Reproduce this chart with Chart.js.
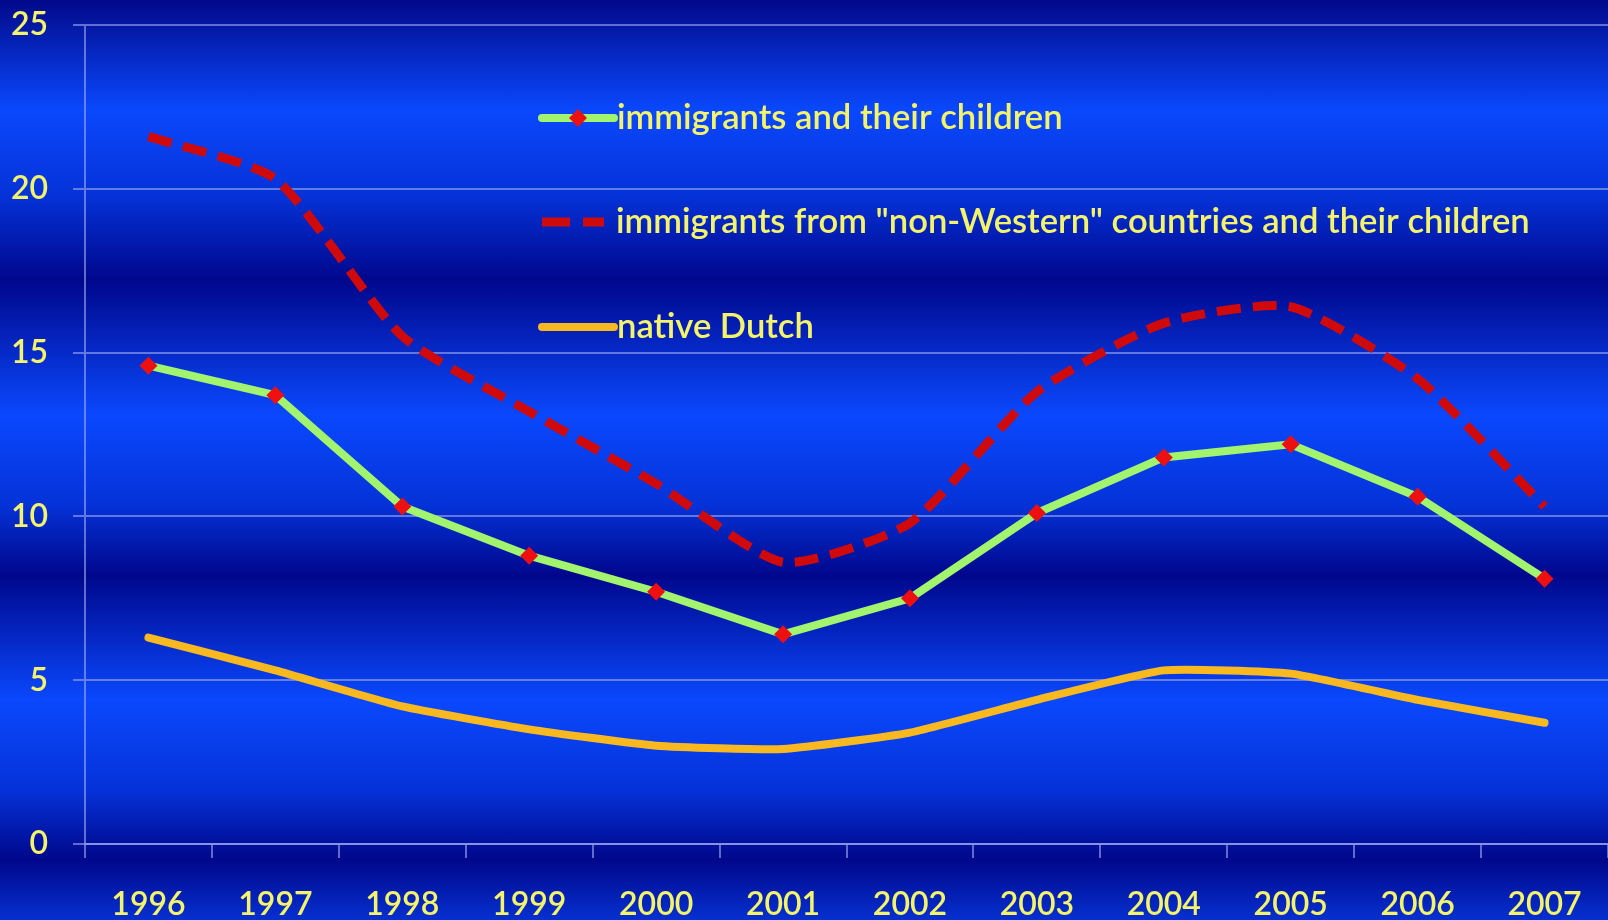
<!DOCTYPE html>
<html>
<head>
<meta charset="utf-8">
<script src="https://cdn.jsdelivr.net/npm/chart.js@4.4.1/dist/chart.umd.min.js"></script>
<style>
  html, body { margin: 0; padding: 0; width: 1608px; height: 920px; overflow: hidden; }
  body {
    /* banded blue background, like the old slide template */
    background: linear-gradient(to bottom,
      #02098a 0px, #0a48fd 110px, #0532d8 195px, #00078c 280px,
      #0a48fd 415px, #0532d8 505px, #00078c 575px,
      #0a48fd 700px, #0532d8 790px, #00078c 860px, #0630d0 920px);
  }
</style>
</head>
<body>
<canvas id="grafico" width="1608" height="920"></canvas>
<script>
// years on the x axis
const anni = ['1996', '1997', '1998', '1999', '2000', '2001', '2002', '2003', '2004', '2005', '2006', '2007'];

// percentages per group
const immigrati = [14.6, 13.7, 10.3, 8.8, 7.7, 6.4, 7.5, 10.1, 11.8, 12.2, 10.6, 8.1];
const nonOccidentali = [21.6, 20.3, 15.5, 13.2, 11.0, 8.6, 9.8, 13.8, 15.9, 16.4, 14.2, 10.3];
const olandesi = [6.3, 5.3, 4.2, 3.5, 3.0, 2.9, 3.4, 4.4, 5.3, 5.2, 4.4, 3.7];

const etichette = ['immigrants and their children', 'immigrants from "non-Western" countries and their children', 'native Dutch'];

const GIALLO = '#f3f36c';
const GRIGLIA = 'rgba(160, 172, 240, 0.6)';
const FONT = 'Lato';

// legend drawn inside the plot, one row per series
const legendaInterna = {
    id: 'legendaInterna',
    afterDatasetsDraw(chart) {
        const ctx = chart.ctx;
        const righe = [118, 222, 327];
        const x0 = 542, x1 = 614, xt = 617;
        ctx.save();
        chart.data.datasets.forEach((ds, i) => {
            const y = righe[i];
            ctx.strokeStyle = ds.borderColor;
            ctx.lineWidth = ds.borderWidth;
            if (ds.borderDash) {
                ctx.lineCap = 'butt';
                ctx.beginPath();
                ctx.moveTo(x0, y); ctx.lineTo(x0 + 28, y);
                ctx.moveTo(x0 + 41, y); ctx.lineTo(x0 + 62, y);
                ctx.stroke();
            } else {
                ctx.lineCap = 'round';
                ctx.beginPath();
                ctx.moveTo(x0, y); ctx.lineTo(x1, y);
                ctx.stroke();
            }
            if (ds.pointRadius > 0) {
                const r = ds.pointRadius;
                const cx = (x0 + x1) / 2;
                ctx.fillStyle = ds.pointBackgroundColor;
                ctx.beginPath();
                ctx.moveTo(cx, y - r); ctx.lineTo(cx + r, y);
                ctx.lineTo(cx, y + r); ctx.lineTo(cx - r, y);
                ctx.closePath();
                ctx.fill();
            }
            ctx.fillStyle = GIALLO;
            ctx.font = '600 34.6px ' + FONT;
            ctx.textBaseline = 'middle';
            ctx.textAlign = 'left';
            ctx.fillText(ds.label, ds.borderDash ? xt - 1 : xt, y);
        });
        ctx.restore();
    }
};

// keep the plot area exactly where the axes are sized, without label overflow padding
function senzaPadding(scale) {
    scale.paddingTop = 0;
    scale.paddingBottom = 0;
    scale.paddingLeft = 0;
    scale.paddingRight = 0;
}

new Chart(document.getElementById('grafico'), {
    type: 'line',
    data: {
        labels: anni,
        datasets: [
            {
                label: etichette[0],
                data: immigrati,
                borderColor: '#a2f46e',
                borderWidth: 8,
                pointStyle: 'rectRot',
                pointRadius: 9,
                pointBackgroundColor: '#ee1010',
                pointBorderWidth: 0,
                tension: 0
            },
            {
                label: etichette[1],
                data: nonOccidentali,
                borderColor: '#d00a0a',
                borderWidth: 9,
                borderDash: [24, 12],
                pointRadius: 0,
                tension: 0.2
            },
            {
                label: etichette[2],
                data: olandesi,
                borderColor: '#f8b820',
                borderWidth: 8,
                borderCapStyle: 'round',
                pointRadius: 0,
                tension: 0.15
            }
        ]
    },
    options: {
        responsive: false,
        animation: false,
        layout: { autoPadding: false, padding: { top: 25, right: 0, left: 0, bottom: 0 } },
        plugins: {
            legend: { display: false },
            tooltip: { enabled: false }
        },
        scales: {
            x: {
                offset: true,
                grid: {
                    offset: true,
                    drawOnChartArea: false,
                    drawTicks: true,
                    tickLength: 14,
                    color: GRIGLIA,
                    lineWidth: 2
                },
                border: { display: true, color: GRIGLIA, width: 2 },
                ticks: {
                    color: GIALLO,
                    font: { family: FONT, size: 32, weight: '600' },
                    padding: 27,
                    maxRotation: 0
                },
                afterFit(scale) {
                    scale.height = 76;
                    senzaPadding(scale);
                }
            },
            y: {
                min: 0,
                max: 25,
                grid: {
                    color: GRIGLIA,
                    lineWidth: 2,
                    drawTicks: true,
                    tickLength: 12
                },
                border: { display: true, color: GRIGLIA, width: 2 },
                ticks: {
                    stepSize: 5,
                    color: GIALLO,
                    font: { family: FONT, size: 32, weight: '600' },
                    padding: 25
                },
                afterFit(scale) {
                    scale.width = 85;
                    senzaPadding(scale);
                }
            }
        }
    },
    plugins: [legendaInterna]
});
</script>
</body>
</html>
